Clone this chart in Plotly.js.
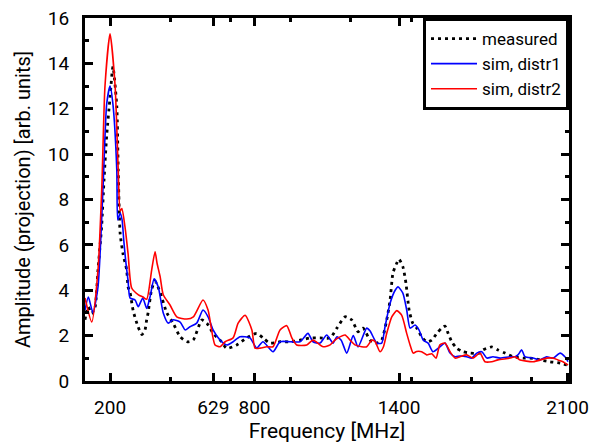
<!DOCTYPE html>
<html>
<head>
<meta charset="utf-8">
<script src="https://cdn.plot.ly/plotly-3.0.1.min.js"></script>
<style>html,body{margin:0;padding:0;background:#fff;}#chart{width:591px;height:445px;}</style>
</head>
<body>
<div id="chart"></div>
<script>
// measured
const measFreq = [96,109,124,138,150,165,175,186,200,212,228,234,242,254,269,275,283,296,316,332,345,352,358,373,387,408,436,462,491,519,545,581,602,628,657,685,726,768,809,835,864,906,948,989,1031,1072,1114,1142,1176,1204,1230,1251,1280,1308,1328,1349,1363,1375,1391,1400,1416,1429,1442,1457,1474,1494,1515,1536,1557,1577,1591,1604,1619,1640,1666,1695,1737,1749,1785,1811,1840,1874,1915,1957,1986,2027,2069,2100];
const measAmp  = [2.7,3.27,2.98,3.27,4.9,6.8,8.86,10.8,12.5,13.85,12.1,9.3,6.5,5.6,4.9,4.15,3.9,3.1,2.4,2.05,2.25,2.69,3.0,4.05,4.4,3.9,3.0,2.55,1.95,1.73,1.8,2.69,2.55,2.1,1.8,1.44,1.59,1.9,2.1,1.9,1.67,1.73,1.73,1.8,1.9,1.9,1.9,2.33,2.83,2.69,2.17,2.33,1.8,1.67,1.8,2.69,3.57,4.76,5.2,5.37,5.04,4.3,3.13,2.55,2.33,1.95,1.73,1.8,2.1,2.33,2.42,2.1,1.73,1.44,1.29,1.23,1.23,1.37,1.5,1.37,1.23,1.07,1.01,1.0,0.93,0.85,0.79,0.7];
// sim, distr1
const d1Freq = [96,110,129,150,171,186,200,212,228,232,242,250,257,265,275,283,304,317,336,352,366,383,400,421,442,462,491,512,532,560,586,607,628,657,685,711,740,781,809,835,877,906,948,989,1022,1043,1072,1100,1126,1142,1160,1183,1210,1230,1266,1280,1308,1328,1342,1363,1384,1396,1416,1432,1446,1467,1483,1501,1521,1541,1570,1591,1612,1633,1653,1681,1702,1723,1744,1765,1790,1820,1861,1882,1894,1910,1923,1957,1986,2013,2040,2069,2089,2102];
const d1Amp  = [3.13,3.7,3.0,4.15,8.55,12.2,13.0,12.2,9.3,7.1,7.4,7.1,6.2,5.3,4.4,3.66,3.57,3.27,3.66,3.2,3.7,4.5,4.15,3.0,2.55,2.7,2.6,2.25,2.39,2.55,3.13,2.83,2.25,1.8,1.59,1.73,1.95,1.9,1.45,1.73,1.29,1.73,1.73,1.73,2.1,1.73,1.67,2.03,1.67,1.95,1.8,1.23,2.0,1.5,2.33,2.2,1.67,1.67,2.39,3.43,4.0,4.15,3.87,3.13,2.33,2.47,2.25,1.8,1.67,1.29,1.51,1.67,1.23,1.07,1.1,1.07,1.01,1.23,1.29,1.01,1.07,1.01,1.07,1.07,1.15,1.37,1.07,1.01,0.93,1.07,1.01,1.23,1.07,0.85];
// sim, distr2
const d2Freq = [96,124,150,166,179,200,221,234,242,249,262,275,290,318,337,352,373,387,395,408,421,449,477,519,546,586,607,636,657,678,711,732,761,789,802,823,851,877,906,934,955,975,1017,1043,1085,1114,1134,1147,1176,1197,1217,1245,1266,1287,1300,1321,1335,1349,1370,1391,1411,1432,1446,1459,1473,1494,1515,1536,1554,1570,1591,1612,1633,1653,1681,1707,1736,1757,1785,1811,1861,1882,1903,1957,2013,2040,2060,2081,2102];
const d2Amp  = [3.66,2.6,4.9,8.6,13.0,15.3,13.0,9.3,7.5,7.6,6.8,5.6,4.1,3.8,3.7,3.6,4.9,5.7,5.2,4.6,3.8,3.35,2.83,2.73,2.83,3.57,3.13,1.59,1.51,1.73,1.9,2.55,2.9,2.25,1.45,1.45,1.51,1.51,2.25,2.44,1.9,1.59,1.59,1.8,1.51,1.59,1.8,1.9,2.03,1.8,1.59,1.51,1.51,1.8,1.75,1.29,1.5,2.1,2.83,3.1,2.9,2.1,1.59,1.23,1.3,1.29,1.15,1.2,1.01,1.6,1.67,1.29,1.01,1.07,1.15,1.01,1.23,0.85,0.85,0.93,1.01,1.07,0.93,0.85,1.01,1.01,0.93,0.85,0.7];
const xTickVals = [200,629,800,1400,2100];
const xTickText = ['200','629','800','1400','2100'];

const FONT = 'Roboto, sans-serif';
const traces = [
  {x: measFreq, y: measAmp, name: 'measured', mode: 'lines',
   line: {color: '#000000', width: 2.8, dash: '3px,4px', shape: 'spline', smoothing: 0.6}},
  {x: d1Freq, y: d1Amp, name: 'sim, distr1', mode: 'lines',
   line: {color: '#0000ff', width: 1.6, shape: 'spline', smoothing: 0.6}},
  {x: d2Freq, y: d2Amp, name: 'sim, distr2', mode: 'lines',
   line: {color: '#ff0000', width: 1.6, shape: 'spline', smoothing: 0.6}}
];
const axisCommon = {
  showline: true, linecolor: '#000', linewidth: 3, mirror: 'ticks',
  ticks: 'inside', tickcolor: '#000', tickwidth: 3, showgrid: false, zeroline: false,
  tickfont: {family: FONT, size: 19, color: '#000'}
};
const layout = {
  width: 591, height: 445,
  margin: {l: 85, r: 22, t: 18, b: 64},
  paper_bgcolor: '#fff', plot_bgcolor: '#fff',
  font: {family: FONT, color: '#000'},
  showlegend: true,
  legend: {x: 1, y: 1, xanchor: 'right', yanchor: 'top', bgcolor: '#fff',
           bordercolor: '#000', borderwidth: 3, font: {family: FONT, size: 17, color: '#000'},
           tracegroupgap: 0, itemwidth: 46},
  xaxis: Object.assign({}, axisCommon, {
    range: [96, 2106], tickmode: 'array', tickvals: xTickVals, ticktext: xTickText, ticklen: 8,
    ticklabelstandoff: 7,
    minor: {tick0: 200, dtick: 250, ticklen: 4, tickwidth: 3, tickcolor: '#000', ticks: 'inside'},
    title: {text: 'Frequency [MHz]', font: {family: FONT, size: 21, color: '#000'}, standoff: 6}
  }),
  yaxis: Object.assign({}, axisCommon, {
    range: [0, 16], tick0: 0, dtick: 2, ticklen: 8,
    ticklabelstandoff: 9,
    minor: {dtick: 1, ticklen: 4, tickwidth: 3, tickcolor: '#000', ticks: 'inside'},
    title: {text: 'Amplitude (projection) [arb. units]', font: {family: FONT, size: 20, color: '#000'}, standoff: 12}
  })
};
Plotly.newPlot('chart', traces, layout, {staticPlot: true, displayModeBar: false});
</script>
</body>
</html>
